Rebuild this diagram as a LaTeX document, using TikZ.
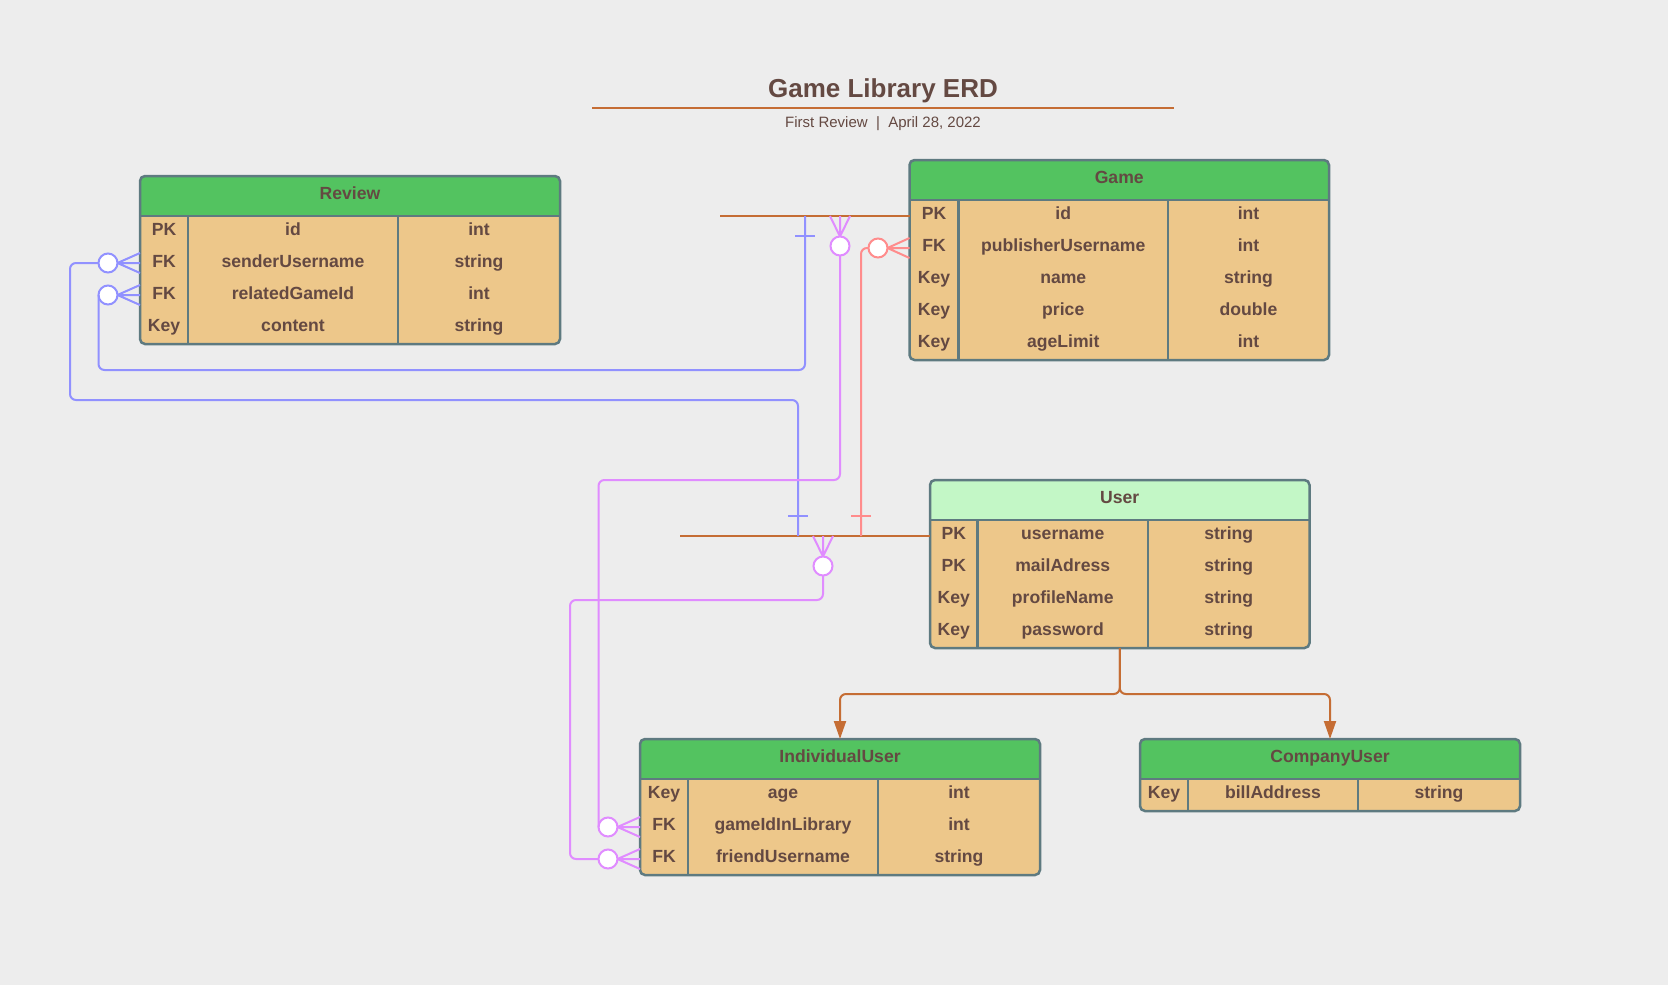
\documentclass[tikz,border=0pt]{standalone}
\usepackage{fontspec}
\setmainfont{Liberation Sans}
\usetikzlibrary{arrows.meta}
\definecolor{bg}{RGB}{237,237,237}
\definecolor{hdgreen}{RGB}{83,195,96}
\definecolor{hdlight}{RGB}{195,247,198}
\definecolor{bodyc}{RGB}{237,199,138}
\definecolor{bordc}{RGB}{94,122,128}
\definecolor{txtc}{RGB}{100,73,66}
\definecolor{orc}{RGB}{197,109,52}
\definecolor{bluc}{RGB}{145,145,255}
\definecolor{purc}{RGB}{224,140,255}
\definecolor{redc}{RGB}{255,140,140}
\tikzset{
  cell/.style={text=txtc, font=\fontsize{17.6}{21}\selectfont\bfseries, inner sep=0pt, text height=11.5pt, text depth=4.5pt},
  tablebox/.style={draw=bordc, line width=2.5pt, rounded corners=5pt, inner sep=0pt, outer sep=0pt, anchor=north west},
  divline/.style={draw=bordc, line width=2.5pt},
  conn/.style={line width=2pt, rounded corners=6pt},
  thin conn/.style={line width=2pt},
  crowc/.style={circle, minimum size=19pt, inner sep=0pt, outer sep=0pt, fill=white, line width=2pt},
  inherit/.style={draw=orc, line width=2pt, rounded corners=6pt, -{Triangle[length=18pt,width=12pt]}, orc}
}
\newcommand\erdframe[9]{%
  \pgfmathsetmacro\erdyB{#3+40+32*#5}%
  \pgfmathsetmacro\erdW{#4-#2}%
  \pgfmathsetmacro\erdH{40+32*#5}%
  \xdef\erdxA{#2}\xdef\erdxB{#4}\xdef\erdcA{#6}\xdef\erdcB{#7}\xdef\erdyT{#3}%
  \fill[bodyc, rounded corners=5pt] (#2,#3) rectangle (#4,\erdyB);
  \fill[#8, rounded corners=5pt] (#2,#3) rectangle (#4,#3+40);
  \fill[#8] (#2,#3+20) rectangle (#4,#3+40);
  \draw[divline] (#2,#3+40) -- (#4,#3+40);
  \draw[divline] (#6,#3+40) -- (#6,\erdyB);
  \draw[divline] (#7,#3+40) -- (#7,\erdyB);
  \node[tablebox, minimum width=\erdW pt, minimum height=\erdH pt] (#1) at (#2,#3) {};
  \node[cell] (#1-title) at ({(#2+#4)/2},#3+20) {#9};
}
\newcommand\erdrow[5]{%
  \pgfmathsetmacro\erdry{\erdyT+40+32*(#2-0.5)}%
  \node[cell] (#1-k#2) at ({(\erdxA+\erdcA)/2},\erdry) {#3};
  \node[cell] (#1-f#2) at ({(\erdcA+\erdcB)/2},\erdry) {#4};
  \node[cell] (#1-t#2) at ({(\erdcB+\erdxB)/2},\erdry) {#5};
}
\begin{document}
\begin{tikzpicture}[x=1pt,y=-1pt]
\fill[bg] (0,0) rectangle (1668,985);
\useasboundingbox (0,0) rectangle (1668,985);

% title
\node[text=txtc, font=\fontsize{26}{30}\selectfont\bfseries, anchor=base, inner sep=0pt] (title) at (883,97.5) {Game Library ERD};
\coordinate (ulA) at (592,107.5);
\coordinate (ulB) at (1174,107.5);
\draw[orc, line width=2pt] (ulA) -- (ulB);
\node[text=txtc, font=\fontsize{15}{18}\selectfont, anchor=base, inner sep=0pt] (subtitle) at (883,127.5) {First Review\ \ |\ \ April 28, 2022};

% tables
\erdframe{review}{140}{176}{560}{4}{188}{398}{hdgreen}{Review}
\erdrow{review}{1}{PK}{id}{int}
\erdrow{review}{2}{FK}{senderUsername}{string}
\erdrow{review}{3}{FK}{relatedGameId}{int}
\erdrow{review}{4}{Key}{content}{string}

\erdframe{game}{909.5}{160}{1329}{5}{958.5}{1168}{hdgreen}{Game}
\erdrow{game}{1}{PK}{id}{int}
\erdrow{game}{2}{FK}{publisherUsername}{int}
\erdrow{game}{3}{Key}{name}{string}
\erdrow{game}{4}{Key}{price}{double}
\erdrow{game}{5}{Key}{ageLimit}{int}

\erdframe{user}{930}{480}{1309.5}{4}{977.5}{1148}{hdlight}{User}
\erdrow{user}{1}{PK}{username}{string}
\erdrow{user}{2}{PK}{mailAdress}{string}
\erdrow{user}{3}{Key}{profileName}{string}
\erdrow{user}{4}{Key}{password}{string}

\erdframe{indiv}{640}{739}{1040}{3}{688}{878}{hdgreen}{IndividualUser}
\erdrow{indiv}{1}{Key}{age}{int}
\erdrow{indiv}{2}{FK}{gameIdInLibrary}{int}
\erdrow{indiv}{3}{FK}{friendUsername}{string}

\erdframe{company}{1140}{739}{1520}{1}{1188}{1358}{hdgreen}{CompanyUser}
\erdrow{company}{1}{Key}{billAddress}{string}

% PK lines
\coordinate (gline) at (720,216);
\coordinate (uline) at (680,536);
\draw[orc, line width=2pt] (gline) -- (gline -| game.west);
\draw[orc, line width=2pt] (uline) -- (uline -| user.west);

% circles
\node[crowc, draw=bluc] (cRS) at (108,263) {};
\node[crowc, draw=bluc] (cRG) at (108,295) {};
\node[crowc, draw=purc] (cGU) at (840,246) {};
\node[crowc, draw=redc] (cGF) at (878,248) {};
\node[crowc, draw=purc] (cUP) at (823,566) {};
\node[crowc, draw=purc] (cIG) at (608,827) {};
\node[crowc, draw=purc] (cIF) at (608,859) {};

% crow's feet
\draw[thin conn, bluc] (cRS.east) -- (140,253) (cRS.east) -- (140,263) (cRS.east) -- (140,273);
\draw[thin conn, bluc] (cRG.east) -- (140,285) (cRG.east) -- (140,295) (cRG.east) -- (140,305);
\draw[thin conn, purc] (cGU.north) -- (830,216) (cGU.north) -- (840,216) (cGU.north) -- (850,216);
\draw[thin conn, redc] (cGF.east) -- (909.5,238) (cGF.east) -- (909.5,248) (cGF.east) -- (909.5,258);
\draw[thin conn, purc] (cUP.north) -- (813,536) (cUP.north) -- (823,536) (cUP.north) -- (833,536);
\draw[thin conn, purc] (cIG.east) -- (640,817) (cIG.east) -- (640,827) (cIG.east) -- (640,837);
\draw[thin conn, purc] (cIF.east) -- (640,849) (cIF.east) -- (640,859) (cIF.east) -- (640,869);

% relationship lines
\draw[conn, bluc] (cRS.west) -- (70,263) -- (70,400) -- (798,400) -- (798,536);
\draw[thin conn, bluc] (788,516) -- (808,516);
\draw[conn, bluc] (cRG.west) |- (805,370) -- (805,216);
\draw[thin conn, bluc] (795,236) -- (815,236);
\draw[conn, purc] (cGU.south) -- (840,480) -| (cIG.west);
\draw[conn, purc] (cUP.south) -- (823,600) -- (570,600) -- (570,859) -- (cIF.west);
\draw[conn, redc] (cGF.west) -| (861,536);
\draw[thin conn, redc] (851,516) -- (871,516);

% inheritance
\draw[inherit] (user.south) -- ++(0,46) -| (indiv.north);
\draw[inherit] (user.south) -- ++(0,46) -| (company.north);
\end{tikzpicture}
\end{document}
